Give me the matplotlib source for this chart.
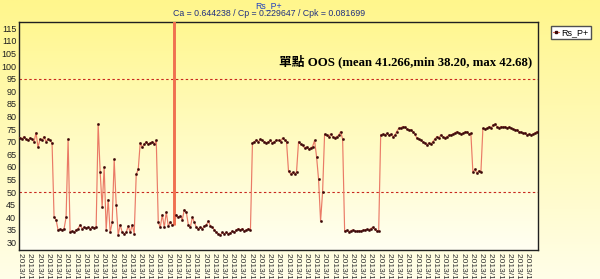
import numpy as np
import matplotlib
matplotlib.use("Agg")
import matplotlib.pyplot as plt
from matplotlib.lines import Line2D

# ---- data -------------------------------------------------------------
seg_a = [71.5, 71.0, 72.0, 71.0, 70.5, 71.5, 71.0, 70.0, 73.5, 67.8, 71.0, 70.5, 72.0, 70.0, 71.0, 70.5, 69.5]
seg_b = [40.0, 39.0, 35.0, 35.2, 34.8, 35.5, 40.0, 71.0]
seg_c = [34.0, 34.5, 34.0, 35.0, 35.5, 37.0, 35.5, 36.0, 35.8, 36.0, 35.5, 36.0, 35.8, 36.2]
seg_d = [77.0, 58.0, 44.0, 60.0, 35.0, 47.0, 34.0, 38.0, 63.0, 45.0]
seg_e = [33.0, 37.0, 34.0, 33.5, 34.0, 36.5, 34.0, 37.0, 33.5, 57.0, 59.0]
seg_f = [69.5, 67.8, 69.0, 70.0, 69.0, 69.5, 70.0, 69.0, 70.5]
seg_g = [38.0, 36.0, 41.0, 36.0, 42.0, 36.5, 38.0, 37.0]
seg_spike = [999.0]
seg_g2 = [41.0, 40.0, 40.5, 39.0, 43.0, 42.0, 37.0, 36.0, 40.0, 38.0,
          36.0, 35.5, 36.0, 35.5, 36.5, 37.0, 38.5, 36.5, 36.0, 35.0,
          34.0, 33.5, 33.0, 34.0, 33.5, 34.0, 33.5, 33.8, 34.5, 34.0,
          35.0, 35.5, 35.0, 35.5, 34.5, 35.0, 35.5, 35.0]
seg_h = [69.5, 70.0, 70.7, 70.0, 71.0, 70.5, 70.0, 69.5, 70.0, 70.5, 69.5, 70.0, 70.7, 70.5, 70.0, 71.4, 70.7, 70.0]
seg_i = [58.2, 57.2, 57.8, 57.0, 58.0]
seg_j = [70.0, 69.0, 68.5, 67.5, 68.0, 67.0, 67.5, 68.0, 70.5, 64.0, 55.0, 38.5, 50.0]
seg_k = [73.0, 72.5, 72.0, 73.0, 72.0, 71.5, 72.0, 72.5, 74.0, 71.0]
seg_l = [34.5, 34.8, 34.3, 34.6, 35.0, 34.5, 34.4, 34.7, 34.5, 34.8, 35.0, 35.2, 35.0, 35.5, 36.0, 35.2, 34.5, 34.7]
seg_m = [72.7, 73.0, 72.5, 73.3, 72.5, 73.0, 72.0, 72.5, 74.0, 75.3,
         75.5, 76.0, 75.8, 75.0, 74.6, 74.8, 74.0, 73.0, 71.5, 71.0,
         70.5, 70.0, 69.5, 68.7, 69.5, 69.0, 70.0, 71.0, 72.0, 71.5,
         72.7, 72.0, 71.5, 72.0, 72.5, 72.7, 73.0, 73.5, 74.0, 73.5,
         73.0, 73.3, 73.8, 74.0, 73.0, 73.3]
seg_n = [58.0, 59.0, 57.5, 58.5, 57.8]
seg_o = [75.3, 75.0, 75.3, 76.0, 75.5, 76.5, 77.0, 76.0, 75.5, 76.0,
         75.8, 76.0, 75.5, 75.8, 75.3, 75.0, 74.8, 74.6, 74.0, 73.8,
         73.3, 73.5, 72.8, 73.0, 72.7, 73.0, 73.5, 74.0]

rs_p = (seg_a + seg_b + seg_c + seg_d + seg_e + seg_f + seg_g + seg_spike + seg_g2
        + seg_h + seg_i + seg_j + seg_k + seg_l + seg_m + seg_n + seg_o)

usl = 95
lsl = 50
series_name = "Rs_P+"
stats_line = "Ca = 0.644238 / Cp = 0.229647 / Cpk = 0.081699"
note = "單點 OOS (mean 41.266,min 38.20, max 42.68)"
yticks = [30, 35, 40, 45, 50, 55, 60, 65, 70, 75, 80, 85, 90, 95, 100, 105, 110, 115]

xlabels = ["2013/1/2 01:10", "2013/1/2 03:25", "2013/1/2 05:40", "2013/1/2 07:55", "2013/1/2 10:10",
           "2013/1/2 12:25", "2013/1/9 02:05", "2013/1/9 04:20", "2013/1/9 06:35", "2013/1/9 08:50",
           "2013/1/10 01:15", "2013/1/10 03:30", "2013/1/11 05:45", "2013/1/11 08:00", "2013/1/12 10:15",
           "2013/1/13 12:30", "2013/1/14 02:45", "2013/1/15 05:00", "2013/1/16 07:15", "2013/1/17 09:30",
           "2013/1/18 11:45", "2013/1/19 01:00", "2013/1/20 03:15", "2013/1/21 05:30", "2013/1/22 07:45",
           "2013/1/23 10:00", "2013/1/24 12:15", "2013/1/25 02:30", "2013/1/26 04:45", "2013/1/27 07:00",
           "2013/1/28 09:15", "2013/1/29 11:30", "2013/1/29 01:45", "2013/1/29 04:00", "2013/1/29 06:15",
           "2013/1/29 08:30", "2013/1/29 10:45", "2013/1/29 12:00", "2013/1/29 02:15", "2013/1/29 04:30",
           "2013/1/29 06:45", "2013/1/29 09:00", "2013/1/29 11:15", "2013/1/29 01:30", "2013/1/29 03:45",
           "2013/1/29 06:00", "2013/1/29 08:15", "2013/1/29 10:30", "2013/1/30 12:45", "2013/1/30 03:00",
           "2013/1/30 05:15", "2013/1/31 07:30", "2013/1/31 09:45", "2013/1/31 12:00", "2013/1/31 02:15",
           "2013/1/31 04:30"]

# ---- figure -----------------------------------------------------------
W, H = 600, 279
fig = plt.figure(figsize=(W / 100, H / 100), dpi=100)

def vgrad(top, bottom, n=256):
    t = np.linspace(0, 1, n)[:, None]
    top = np.array(top) / 255.0
    bottom = np.array(bottom) / 255.0
    g = top[None, :] * (1 - t) + bottom[None, :] * t
    return g[:, None, :]

bg = fig.add_axes([0, 0, 1, 1], zorder=-10)
bg.imshow(vgrad((255, 246, 140), (255, 254, 232)), aspect="auto", extent=[0, 1, 0, 1])
bg.set_xlim(0, 1); bg.set_ylim(0, 1)
bg.axis("off")

l, r, t, b = 19, 538, 22, 250
ax = fig.add_axes([l / W, 1 - b / H, (r - l) / W, (b - t) / H])
ax.set_facecolor("none")

vals = np.array(rs_p, dtype=float)
n = len(vals)
x = np.arange(n)
ylo, yhi = 27.0, 117.5

ax.imshow(vgrad((255, 247, 145), (255, 255, 242)), aspect="auto",
          extent=[-0.5, n - 0.5, ylo, yhi], zorder=0)

ax.axhline(usl, color="#c8281e", lw=0.8, ls=(0, (2.2, 2.2)), zorder=2)
ax.axhline(lsl, color="#c8281e", lw=0.8, ls=(0, (2.2, 2.2)), zorder=2)

# main trace; the off-scale spike is drawn as a narrow vertical bar
k = int(np.argmax(vals))
line_vals = vals.copy()
line_vals[k] = np.nan
ax.plot(x, line_vals, color="#ea7a66", lw=0.85, zorder=3)
base = min(vals[k - 1], vals[k + 1])
ax.plot([x[k - 1], x[k], x[k + 1]], [vals[k - 1], base, vals[k + 1]], color="#ea7a66", lw=0.85, zorder=3)
ax.vlines(x[k], base, vals[k], color="#f07050", lw=2.1, zorder=3)
ax.plot(x, vals, ls="none", marker="o", ms=1.5, mfc="#3a0808", mec="#3a0808", mew=0.4, zorder=4)

ax.set_xlim(-0.5, n - 0.5)
ax.set_ylim(ylo, yhi)

ax.set_yticks(yticks)
ax.set_yticklabels([str(v) for v in yticks], fontsize=6.5, family="Liberation Sans", color="#202020")
ax.tick_params(axis="y", length=0, pad=2)

tick_pos = np.arange(len(xlabels)) * 4.6 + 0.35
ax.set_xticks(tick_pos)
ax.set_xticklabels(xlabels, rotation=270, fontsize=6, family="Liberation Sans", color="#303030",
                   ha="center", va="top")
ax.tick_params(axis="x", length=0, pad=2)

for s in ax.spines.values():
    s.set_color("#202020")
    s.set_linewidth(1.0)

fig.text(269 / W, 1 - 5.5 / H, series_name, ha="center", va="center", fontsize=6.3,
         family="Liberation Sans", color="#2040c0")
fig.text(269 / W, 1 - 14 / H, stats_line, ha="center", va="center", fontsize=6.3,
         family="Liberation Sans", color="#203080")

fig.text(532 / W, 1 - 61 / H, note, ha="right", va="center", fontsize=9.2, fontweight="bold",
         family=["Liberation Serif", "Noto Sans CJK TC"], color="black")

handle = Line2D([], [], color="#e8705a", lw=0.8, marker="s", ms=2, mfc="#3a0808", mec="#3a0808")
fig.legend([handle], [series_name], loc="center", bbox_to_anchor=(571 / W, 1 - 32.5 / H),
           fontsize=6.5, frameon=True, fancybox=False, edgecolor="#505050", facecolor="white",
           framealpha=1, handlelength=0.6, handletextpad=0.3, borderpad=0.25,
           prop={"family": "Liberation Sans", "size": 6.5})

fig.savefig("out.png", dpi=100)
